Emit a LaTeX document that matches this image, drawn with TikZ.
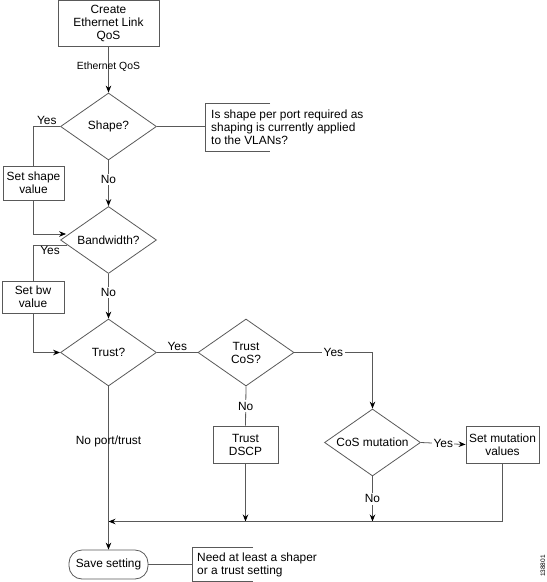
\documentclass[tikz,border=0pt]{standalone}
\usepackage{fontspec}
\setmainfont{Liberation Sans}
\usetikzlibrary{shapes.geometric,arrows.meta,calc}
\newcommand\fs{\fontsize{11.9}{13}\selectfont}
\newcommand\fsm{\fontsize{10.4}{12}\selectfont}
\begin{document}
\begin{tikzpicture}[x=1pt,y=-1pt,
 ln/.style={draw=black!65, line width=0.8pt},
 arr/.style={ln, -{Stealth[length=7pt,width=5.5pt,color=black]}},
 box/.style={draw=black!65, line width=0.8pt, rectangle, align=center, inner sep=0pt, font=\fs},
 dia/.style={draw=black!65, line width=0.8pt, diamond, inner sep=0pt, align=center, minimum width=96pt, minimum height=67pt, font=\fs},
 lbl/.style={font=\fs, inner sep=1pt},
 wl/.style={lbl, fill=white, inner sep=1.5pt},
]
\useasboundingbox (0,0) rectangle (547,582);
% nodes
\node[box, minimum width=101pt, minimum height=46pt] (create) at (108.5,23.5) {Create\\Ethernet Link\\QoS};
\node[dia] (shape) at (108.5,126.5) {Shape?};
\node[box, minimum width=61pt, minimum height=34pt] (setshape) at (33.5,183) {Set shape\\value};
\node[dia] (bw) at (108.5,240) {\makebox[0pt]{Bandwidth?}};
\node[box, minimum width=62pt, minimum height=32pt] (setbw) at (33,297) {Set bw\\value};
\node[dia] (trust) at (108.5,352.5) {Trust?};
\node[dia] (tcos) at (246,352.5) {Trust\\CoS?};
\node[box, minimum width=65pt, minimum height=37pt] (tdscp) at (245.5,444.5) {Trust\\DSCP};
\node[dia] (cosm) at (372.5,442.5) {\makebox[0pt]{CoS mutation}};
\node[box, minimum width=73pt, minimum height=37pt] (setmut) at (502.5,444.5) {Set mutation\\values};
\node[box, rounded corners=13pt, minimum width=79pt, minimum height=29pt] (save) at (108.5,564.5) {Save setting};
\coordinate (j) at (108.5,521.5);
% notes
\coordinate (n1) at (205,126.5);
\draw[ln] (270,103) -- (205,103) -- (205,151) -- (270,151);
\node[lbl, anchor=west, align=left] (note1) at (210,127) {Is shape per port required as\\shaping is currently applied\\to the VLANs?};
\coordinate (n2) at (192,564.5);
\draw[ln] (253,547) -- (192,547) -- (192,581.5) -- (253,581.5);
\node[lbl, anchor=west, align=left] (note2) at (196,564.5) {Need at least a shaper\\or a trust setting};
\node[rotate=90, font=\fontsize{6.5}{7}\selectfont, inner sep=0pt] (fig) at (543,566) {138801};
% connectors
\draw[arr] (create.south) -- node[pos=0.43, font=\fsm, inner sep=0pt] {Ethernet QoS} (shape.north);
\draw[ln] (shape.east) -- (n1);
\draw[ln] (shape.west) -| node[lbl, pos=0.25, above] {Yes} (setshape.north);
\draw[arr] (setshape.south) |- ($(bw.west)+(6,-6)$);
\draw[arr] (shape.south) -- node[wl, pos=0.42] {No} (bw.north);
\draw[ln] ($(bw.west)+(7,5)$) -| node[lbl, pos=0.25, below] {Yes} (setbw.north);
\draw[arr] (setbw.south) |- (trust.west);
\draw[arr] (bw.south) -- node[wl, pos=0.42] {No} (trust.north);
\draw[ln] (trust.east) -- node[lbl, above] {Yes} (tcos.west);
\draw[arr] (tcos.east) -| node[wl, pos=0.25] {Yes} (cosm.north);
\draw[ln] (tcos.south) -- node[wl] {No} (tdscp.north);
\draw[arr] (cosm.east) -- node[wl] {Yes} (setmut.west);
\draw[arr] (tdscp.south) -- (tdscp.south |- j);
\draw[arr] (cosm.south) -- node[wl] {No} (cosm.south |- j);
\draw[arr] (setmut.south) |- (j);
\draw[arr] (trust.south) -- node[pos=0.34, lbl, inner sep=0pt] {No port/trust} (save.north);
\draw[ln] (save.east) -- (n2);
\end{tikzpicture}
\end{document}
